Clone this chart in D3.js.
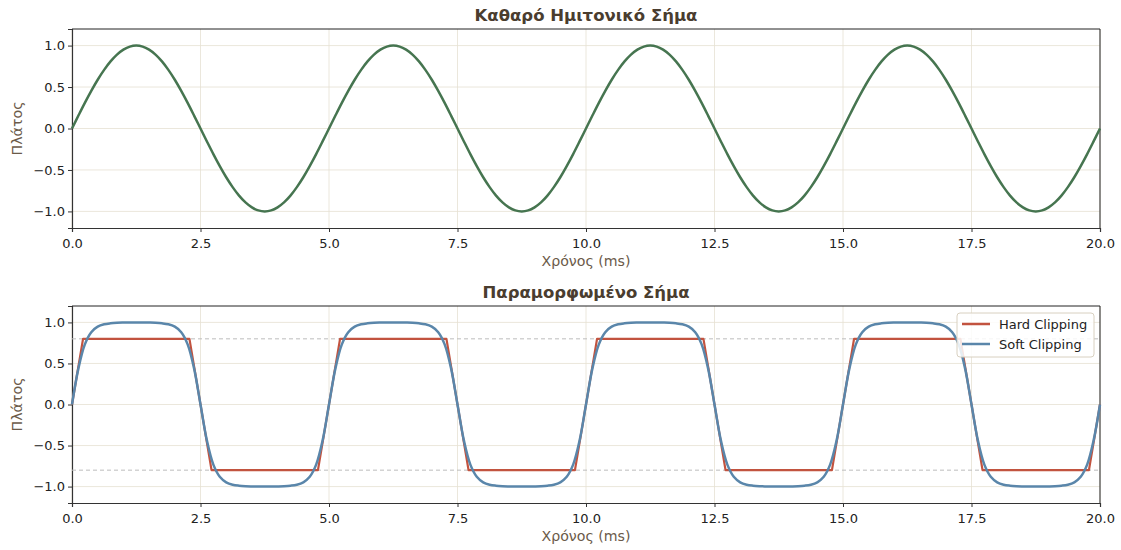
<!DOCTYPE html>
<html>
<head>
<meta charset="utf-8">
<script src="https://cdn.jsdelivr.net/npm/d3@7"></script>
<style>
    body { margin: 0; background: #ffffff; }
    svg text { font-family: "DejaVu Sans", sans-serif; }
</style>
</head>
<body>
<div id="chart"></div>
<script>

// sample grid, 0.125 ms steps over 0..20 ms
let timeMs = d3.range(0, 161).map(i => i * 0.125);

// pure sine
let sineValues = [
    0, 0.156, 0.309, 0.454, 0.588, 0.707, 0.809, 0.891, 0.951, 0.988, 1.0, 0.988, 0.951, 0.891, 0.809, 0.707, 0.588, 0.454, 0.309, 0.156,
    0, -0.156, -0.309, -0.454, -0.588, -0.707, -0.809, -0.891, -0.951, -0.988, -1.0, -0.988, -0.951, -0.891, -0.809, -0.707, -0.588, -0.454, -0.309, -0.156,
    0, 0.156, 0.309, 0.454, 0.588, 0.707, 0.809, 0.891, 0.951, 0.988, 1.0, 0.988, 0.951, 0.891, 0.809, 0.707, 0.588, 0.454, 0.309, 0.156,
    0, -0.156, -0.309, -0.454, -0.588, -0.707, -0.809, -0.891, -0.951, -0.988, -1.0, -0.988, -0.951, -0.891, -0.809, -0.707, -0.588, -0.454, -0.309, -0.156,
    0, 0.156, 0.309, 0.454, 0.588, 0.707, 0.809, 0.891, 0.951, 0.988, 1.0, 0.988, 0.951, 0.891, 0.809, 0.707, 0.588, 0.454, 0.309, 0.156,
    0, -0.156, -0.309, -0.454, -0.588, -0.707, -0.809, -0.891, -0.951, -0.988, -1.0, -0.988, -0.951, -0.891, -0.809, -0.707, -0.588, -0.454, -0.309, -0.156,
    0, 0.156, 0.309, 0.454, 0.588, 0.707, 0.809, 0.891, 0.951, 0.988, 1.0, 0.988, 0.951, 0.891, 0.809, 0.707, 0.588, 0.454, 0.309, 0.156,
    0, -0.156, -0.309, -0.454, -0.588, -0.707, -0.809, -0.891, -0.951, -0.988, -1.0, -0.988, -0.951, -0.891, -0.809, -0.707, -0.588, -0.454, -0.309, -0.156,
    0
];

// soft clipping (bottom panel, blue)
let softValues = [
    0, 0.440, 0.733, 0.881, 0.948, 0.977, 0.989, 0.995, 0.998, 1.0, 1.0, 1.0, 0.998, 0.995, 0.989, 0.977, 0.948, 0.881, 0.733, 0.440,
    0, -0.440, -0.733, -0.881, -0.948, -0.977, -0.989, -0.995, -0.998, -1.0, -1.0, -1.0, -0.998, -0.995, -0.989, -0.977, -0.948, -0.881, -0.733, -0.440,
    0, 0.440, 0.733, 0.881, 0.948, 0.977, 0.989, 0.995, 0.998, 1.0, 1.0, 1.0, 0.998, 0.995, 0.989, 0.977, 0.948, 0.881, 0.733, 0.440,
    0, -0.440, -0.733, -0.881, -0.948, -0.977, -0.989, -0.995, -0.998, -1.0, -1.0, -1.0, -0.998, -0.995, -0.989, -0.977, -0.948, -0.881, -0.733, -0.440,
    0, 0.440, 0.733, 0.881, 0.948, 0.977, 0.989, 0.995, 0.998, 1.0, 1.0, 1.0, 0.998, 0.995, 0.989, 0.977, 0.948, 0.881, 0.733, 0.440,
    0, -0.440, -0.733, -0.881, -0.948, -0.977, -0.989, -0.995, -0.998, -1.0, -1.0, -1.0, -0.998, -0.995, -0.989, -0.977, -0.948, -0.881, -0.733, -0.440,
    0, 0.440, 0.733, 0.881, 0.948, 0.977, 0.989, 0.995, 0.998, 1.0, 1.0, 1.0, 0.998, 0.995, 0.989, 0.977, 0.948, 0.881, 0.733, 0.440,
    0, -0.440, -0.733, -0.881, -0.948, -0.977, -0.989, -0.995, -0.998, -1.0, -1.0, -1.0, -0.998, -0.995, -0.989, -0.977, -0.948, -0.881, -0.733, -0.440,
    0
];

// hard clipping corners (bottom panel, red)
let hardTimes = [0, 0.215, 2.285, 2.715, 4.785, 5.215, 7.285, 7.715, 9.785, 10.215,
                 12.285, 12.715, 14.785, 15.215, 17.285, 17.715, 19.785, 20];
let hardValues = [0, 0.8, 0.8, -0.8, -0.8, 0.8, 0.8, -0.8, -0.8, 0.8,
                  0.8, -0.8, -0.8, 0.8, 0.8, -0.8, -0.8, 0];

let clipLevels = [0.8, -0.8];
let xTicks = [0, 2.5, 5, 7.5, 10, 12.5, 15, 17.5, 20];
let yTicks = [-1.0, -0.5, 0.0, 0.5, 1.0];
let legendLabels = ["Hard Clipping", "Soft Clipping"];

let width = 1121, height = 550;
let margin = {left: 72, right: 21};

let svg = d3.select("#chart").append("svg")
    .attr("width", width)
    .attr("height", height);

let x = d3.scaleLinear()
    .domain([0, 20])
    .range([margin.left, width - margin.right]);

function drawPanel(top, bottom, title) {
    let y = d3.scaleLinear()
        .domain([-1.2, 1.2])
        .range([bottom, top]);

    let g = svg.append("g");

    // grid
    g.selectAll(".vgrid")
        .data(xTicks)
        .enter().append("line")
        .attr("x1", d => x(d)).attr("x2", d => x(d))
        .attr("y1", top).attr("y2", bottom)
        .attr("stroke", "#e6e1d3")
        .attr("stroke-width", 0.8);
    g.selectAll(".hgrid")
        .data(yTicks)
        .enter().append("line")
        .attr("x1", x(0)).attr("x2", x(20))
        .attr("y1", d => y(d)).attr("y2", d => y(d))
        .attr("stroke", "#e6e1d3")
        .attr("stroke-width", 0.8);

    // axes
    let xAxis = g.append("g")
        .attr("transform", `translate(0, ${bottom})`)
        .call(d3.axisBottom(x).tickValues(xTicks).tickFormat(d3.format(".1f")).tickSizeOuter(0).tickSize(4));
    let yAxis = g.append("g")
        .attr("transform", `translate(${margin.left}, 0)`)
        .call(d3.axisLeft(y).tickValues(yTicks).tickFormat(d3.format(".1f")).tickSizeOuter(0).tickSize(4));
    [xAxis, yAxis].forEach(a => {
        a.select(".domain").attr("stroke", "#333").attr("stroke-width", 1.2);
        a.selectAll(".tick line").attr("stroke", "#333");
        a.selectAll(".tick text").attr("fill", "#222").attr("font-size", 13);
    });
    xAxis.selectAll(".tick text").attr("dy", "1.0em");

    // top and right spines
    g.append("line")
        .attr("x1", x(0)).attr("x2", x(20)).attr("y1", top).attr("y2", top)
        .attr("stroke", "#222").attr("stroke-width", 1);
    g.append("line")
        .attr("x1", x(20)).attr("x2", x(20)).attr("y1", top).attr("y2", bottom)
        .attr("stroke", "#222").attr("stroke-width", 1);

    // labels
    g.append("text")
        .attr("x", (x(0) + x(20)) / 2)
        .attr("y", top - 8)
        .attr("text-anchor", "middle")
        .attr("font-size", 16.5)
        .attr("font-weight", "bold")
        .attr("fill", "#4a3d2f")
        .text(title);
    g.append("text")
        .attr("x", (x(0) + x(20)) / 2)
        .attr("y", bottom + 38)
        .attr("text-anchor", "middle")
        .attr("font-size", 14.2)
        .attr("fill", "#6b5a49")
        .text("Χρόνος (ms)");
    g.append("text")
        .attr("transform", `translate(22, ${(top + bottom) / 2}) rotate(-90)`)
        .attr("text-anchor", "middle")
        .attr("font-size", 14.2)
        .attr("fill", "#6b5a49")
        .text("Πλάτος");

    return {g: g, y: y};
}

// top panel
let p1 = drawPanel(29, 228, "Καθαρό Ημιτονικό Σήμα");
p1.g.append("path")
    .datum(sineValues)
    .attr("fill", "none")
    .attr("stroke", "#467550")
    .attr("stroke-width", 2.5)
    .attr("d", d3.line()
        .x((d, i) => x(timeMs[i]))
        .y(d => p1.y(d))
        .curve(d3.curveCatmullRom));

// bottom panel
let p2 = drawPanel(306, 503, "Παραμορφωμένο Σήμα");
p2.g.selectAll(".clipLevel")
    .data(clipLevels)
    .enter().append("line")
    .attr("x1", x(0)).attr("x2", x(20))
    .attr("y1", d => p2.y(d)).attr("y2", d => p2.y(d))
    .attr("stroke", "#bdbdbd")
    .attr("stroke-width", 1)
    .attr("stroke-dasharray", "4,3");

p2.g.append("path")
    .datum(hardValues)
    .attr("fill", "none")
    .attr("stroke", "#c2533f")
    .attr("stroke-width", 2.2)
    .attr("stroke-linejoin", "round")
    .attr("d", d3.line()
        .x((d, i) => x(hardTimes[i]))
        .y(d => p2.y(d)));

p2.g.append("path")
    .datum(softValues)
    .attr("fill", "none")
    .attr("stroke", "#5a86aa")
    .attr("stroke-width", 2.5)
    .attr("d", d3.line()
        .x((d, i) => x(timeMs[i]))
        .y(d => p2.y(d))
        .curve(d3.curveCatmullRom));

// legend
let legend = p2.g.append("g").attr("transform", "translate(957, 313)");
legend.append("rect")
    .attr("width", 137).attr("height", 44)
    .attr("rx", 3)
    .attr("fill", "white").attr("fill-opacity", 0.85)
    .attr("stroke", "#d8d0c0");
let legendColors = ["#c2533f", "#5a86aa"];
legendLabels.forEach((lab, i) => {
    legend.append("line")
        .attr("x1", 5).attr("x2", 33)
        .attr("y1", 11 + i * 20).attr("y2", 11 + i * 20)
        .attr("stroke", legendColors[i])
        .attr("stroke-width", 2.5);
    legend.append("text")
        .attr("x", 42).attr("y", 15.5 + i * 20)
        .attr("font-size", 13)
        .attr("fill", "#222")
        .text(lab);
});

</script>
</body>
</html>
